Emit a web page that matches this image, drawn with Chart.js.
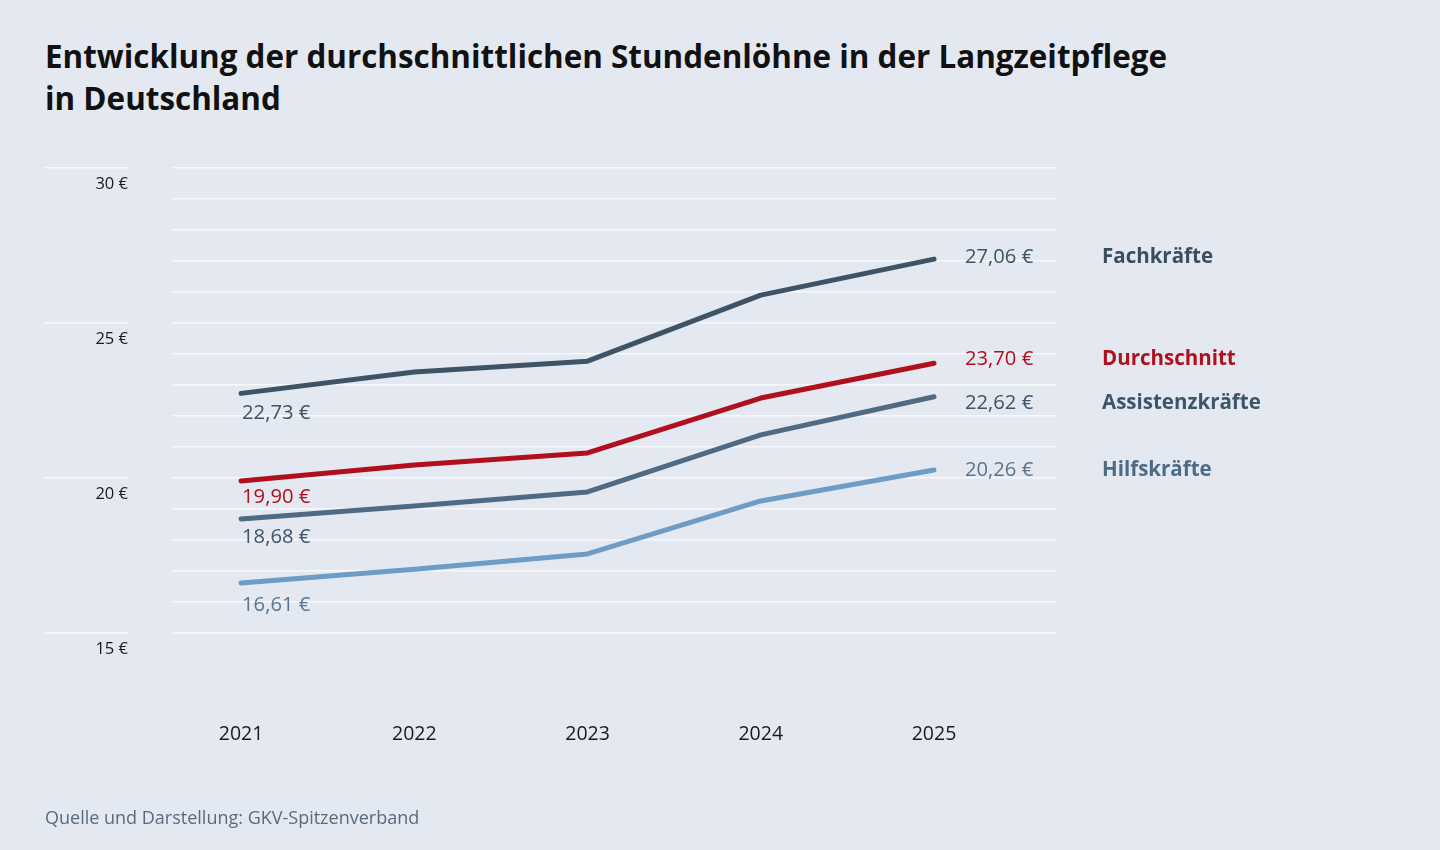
<!DOCTYPE html>
<html lang="de">
<head>
<meta charset="utf-8">
<script src="https://cdn.jsdelivr.net/npm/chart.js@4/dist/chart.umd.min.js"></script>
<style>
  html, body { margin: 0; padding: 0; background: #e4e9f1; }
  body { width: 1440px; height: 850px; position: relative; overflow: hidden; font-family: "Open Sans", "Noto Sans", sans-serif; }
  #title { position: absolute; left: 45px; top: 35px; margin: 0; font-size: 31.4px; line-height: 42px; font-weight: 700; color: #111; }
  #source { position: absolute; left: 45px; top: 805px; font-size: 18px; color: #5a6a7e; }
  #wrap { position: absolute; left: 0; top: 0; width: 1440px; height: 850px; }
</style>
</head>
<body>
<h1 id="title">Entwicklung der durchschnittlichen Stundenlöhne in der Langzeitpflege<br>in Deutschland</h1>
<div id="wrap"><canvas id="c" width="1440" height="850"></canvas></div>
<div id="source">Quelle und Darstellung: GKV-Spitzenverband</div>
<script>
const years = [2021, 2022, 2023, 2024, 2025];
const seriesNames = ["Fachkräfte", "Durchschnitt", "Assistenzkräfte", "Hilfskräfte"];
const fachkraefte = [22.73, 23.42, 23.77, 25.90, 27.06];
const durchschnitt = [19.90, 20.42, 20.81, 22.58, 23.70];
const assistenzkraefte = [18.68, 19.10, 19.55, 21.39, 22.62];
const hilfskraefte = [16.61, 17.06, 17.55, 19.26, 20.26];
const yTicksMajor = [15, 20, 25, 30];

const FONT = '"Open Sans", "Noto Sans", sans-serif';
const GRID = '#f6f8fb';

function fmt(v) { return v.toFixed(2).replace('.', ',') + ' €'; }

const styles = [
  { line: '#3e5366', text: '#3e5366', name: '#3a4d5f', nudge: -2, firstNudge: 20 },
  { line: '#b0101e', text: '#b0101e', name: '#b0101e', nudge: -4, firstNudge: 16 },
  { line: '#4f6a83', text: '#3e5366', name: '#3e5468', nudge: 6, firstNudge: 18 },
  { line: '#6f9cc4', text: '#5b7590', name: '#4f6a84', nudge: 0, firstNudge: 22 }
];
const valuesList = [fachkraefte, durchschnitt, assistenzkraefte, hilfskraefte];

const datasets = valuesList.map((vals, i) => ({
  label: seriesNames[i],
  data: years.map((y, j) => ({ x: y, y: vals[j] })),
  borderColor: styles[i].line,
  backgroundColor: styles[i].line,
  borderWidth: 5,
  borderCapStyle: 'round',
  borderJoinStyle: 'round',
  pointRadius: 0,
  pointHoverRadius: 0,
  tension: 0,
  fill: false
}));

const labelPlugin = {
  id: 'valueLabels',
  afterDatasetsDraw(chart) {
    const ctx = chart.ctx;
    ctx.save();
    chart.data.datasets.forEach((ds, i) => {
      const meta = chart.getDatasetMeta(i);
      const first = meta.data[0];
      const last = meta.data[meta.data.length - 1];
      const st = styles[i];
      ctx.textBaseline = 'middle';
      ctx.textAlign = 'left';
      ctx.font = '20.2px ' + FONT;
      ctx.fillStyle = st.text;
      ctx.fillText(fmt(ds.data[0].y), first.x + 1, first.y + st.firstNudge);
      ctx.fillText(fmt(ds.data[ds.data.length - 1].y), last.x + 31, last.y + st.nudge);
      ctx.font = 'bold 20.5px ' + FONT;
      ctx.fillStyle = st.name;
      ctx.fillText(ds.label, 1102, last.y + st.nudge);
    });
    ctx.restore();
  }
};

new Chart(document.getElementById('c'), {
  type: 'line',
  data: { datasets },
  plugins: [labelPlugin],
  options: {
    responsive: false,
    animation: false,
    devicePixelRatio: 1,
    layout: { padding: { left: 45, right: 383, top: 168, bottom: 77 } },
    plugins: { legend: { display: false }, tooltip: { enabled: false }, title: { display: false } },
    scales: {
      x: {
        type: 'linear',
        min: 2020.607,
        max: 2025.71,
        afterBuildTicks: (scale) => { scale.ticks = years.map(v => ({ value: v })); },
        afterFit: (scale) => { scale.height = 140; },
        grid: { display: false, drawTicks: false },
        border: { display: false },
        ticks: {
          padding: 90,
          color: '#1a1a1a',
          font: { family: FONT, size: 19.5 },
          callback: (v) => String(v)
        }
      },
      y: {
        min: 15,
        max: 30,
        afterBuildTicks: (scale) => {
          const t = [];
          for (let v = 15; v <= 30; v++) t.push({ value: v });
          scale.ticks = t;
        },
        afterFit: (scale) => { scale.width = 128; },
        border: { display: false },
        grid: {
          color: GRID,
          lineWidth: 1.5,
          drawTicks: true,
          tickLength: 128,
          tickWidth: 1.5,
          tickColor: (c) => (c.tick && yTicksMajor.includes(c.tick.value)) ? GRID : 'rgba(0,0,0,0)',
          tickBorderDash: [83, 200]
        },
        ticks: {
          padding: -83,
          labelOffset: 16,
          color: '#1a1a1a',
          font: { family: FONT, size: 16.5 },
          callback: (v) => yTicksMajor.includes(v) ? v + ' €' : ''
        }
      }
    }
  }
});
</script>
</body>
</html>
